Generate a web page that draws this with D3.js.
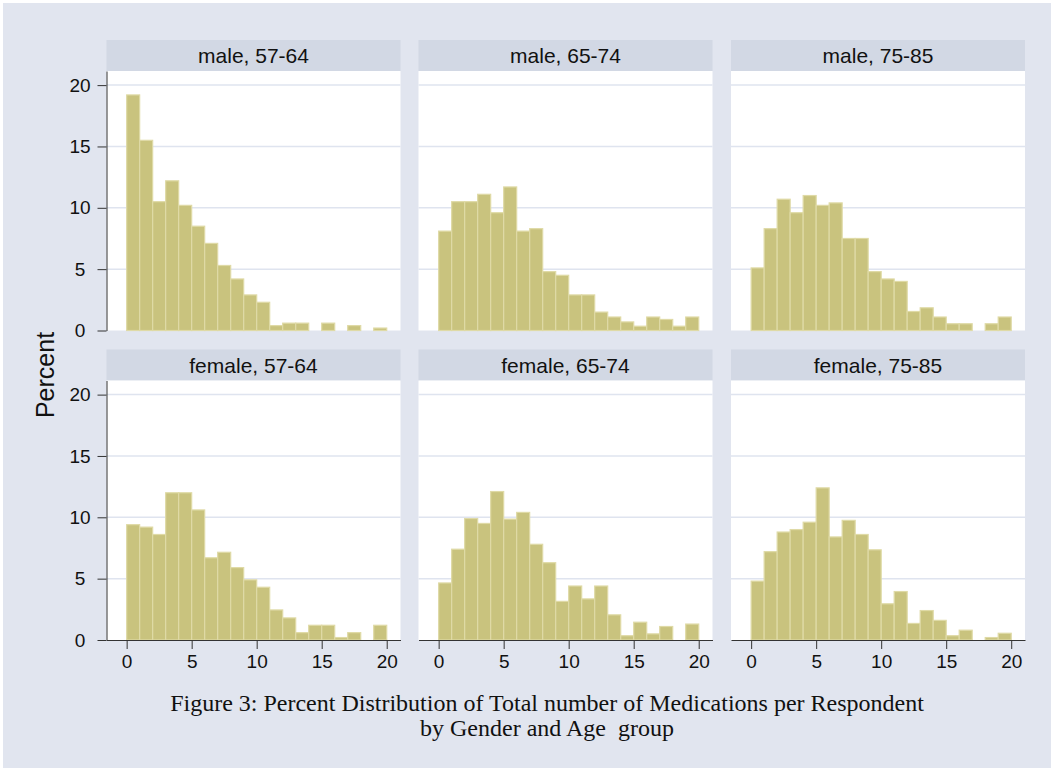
<!DOCTYPE html>
<html>
<head>
<meta charset="utf-8">
<script src="https://cdn.jsdelivr.net/npm/d3@7"></script>
<style>
  html, body { margin: 0; padding: 0; background: #fff; }
  svg { display: block; }
</style>
</head>
<body>
<div id="chart"></div>
<script>
// bin left edges (number of medications), bin width 1
const bins = [0, 1, 2, 3, 4, 5, 6, 7, 8, 9, 10, 11, 12, 13, 14, 15, 16, 17, 18, 19];

// percent per bin
const male5764   = [19.2, 15.5, 10.5, 12.2, 10.2, 8.5, 7.1, 5.3, 4.2, 2.9, 2.3, 0.4, 0.6, 0.6, 0, 0.6, 0, 0.4, 0, 0.2];
const male6574   = [8.1, 10.5, 10.5, 11.1, 9.6, 11.7, 8.1, 8.3, 4.8, 4.5, 2.9, 2.9, 1.5, 1.1, 0.7, 0.35, 1.1, 0.9, 0.35, 1.1];
const male7585   = [5.1, 8.3, 10.7, 9.6, 11.0, 10.2, 10.4, 7.5, 7.5, 4.8, 4.2, 4.0, 1.55, 1.85, 1.1, 0.55, 0.55, 0, 0.55, 1.1];
const female5764 = [9.4, 9.2, 8.6, 12.0, 12.0, 10.6, 6.7, 7.15, 5.9, 4.9, 4.3, 2.45, 1.8, 0.6, 1.2, 1.2, 0.2, 0.6, 0, 1.2];
const female6574 = [4.65, 7.4, 9.9, 9.5, 12.1, 9.85, 10.4, 7.8, 6.3, 3.15, 4.4, 3.35, 4.4, 2.05, 0.35, 1.45, 0.5, 1.1, 0, 1.3];
const female7585 = [4.8, 7.2, 8.8, 9.0, 9.6, 12.4, 8.4, 9.75, 8.6, 7.35, 2.95, 3.95, 1.35, 2.4, 1.6, 0.35, 0.8, 0, 0.2, 0.55];

const panelTitles = ["male, 57-64", "male, 65-74", "male, 75-85",
                     "female, 57-64", "female, 65-74", "female, 75-85"];
const panelData = [male5764, male6574, male7585, female5764, female6574, female7585];

const yTicks = [0, 5, 10, 15, 20];
const xTicks = [0, 5, 10, 15, 20];

const captionLines = ["Figure 3: Percent Distribution of Total number of Medications per Respondent",
                      "by Gender and Age  group"];

// layout
const W = 1051, H = 768;
const colLeft = [106.5, 418.5, 731];
const rowTop = [40, 349.5];     // top of header strip
const headerH = 31,
    plotW = 294,
    plotH = 259.5;

const bg = "#e1e5ef",
    headerFill = "#d2d8e4",
    gridColor = "#dfe4ef",
    barFill = "#c9c37e",
    barStroke = "#dfdaa6",
    axisColor = "#333";

const svg = d3.select("#chart")
    .append("svg")
    .attr("width", W)
    .attr("height", H);

svg.append("rect")
    .attr("x", 3).attr("y", 3)
    .attr("width", W - 3).attr("height", H - 3)
    .attr("fill", bg);

const x = d3.scaleLinear().domain([-1.55, 21.06]).range([0, plotW]);
const y = d3.scaleLinear().domain([0, 21.15]).range([plotH, 0]);

panelData.forEach((vals, i) => {
    const row = Math.floor(i / 3), col = i % 3;
    const g = svg.append("g")
        .attr("transform", `translate(${colLeft[col]}, ${rowTop[row]})`);

    // header strip
    g.append("rect")
        .attr("width", plotW).attr("height", headerH)
        .attr("fill", headerFill);
    g.append("text")
        .attr("x", plotW / 2).attr("y", headerH / 2 + 7.5)
        .attr("text-anchor", "middle")
        .attr("font-family", "Liberation Sans, Arial, sans-serif")
        .attr("font-size", "21px")
        .attr("fill", "#111")
        .text(panelTitles[i]);

    const p = g.append("g").attr("transform", `translate(0, ${headerH})`);

    p.append("rect")
        .attr("width", plotW).attr("height", plotH)
        .attr("fill", "#fff");

    // grid
    p.append("g")
        .selectAll("line")
        .data(yTicks.filter(d => d > 0))
        .join("line")
            .attr("x1", 0).attr("x2", plotW)
            .attr("y1", d => y(d)).attr("y2", d => y(d))
            .attr("stroke", gridColor)
            .attr("stroke-width", 1.5);

    // bars
    p.append("g")
        .selectAll("rect")
        .data(bins.map((b, j) => ({ b: b, v: vals[j] })).filter(d => d.v > 0))
        .join("rect")
            .attr("x", d => x(d.b))
            .attr("width", d => x(d.b + 1) - x(d.b))
            .attr("y", d => y(d.v))
            .attr("height", d => y(0) - y(d.v))
            .attr("fill", barFill)
            .attr("stroke", barStroke)
            .attr("stroke-width", 1.2);

    // y axis on the left column
    if (col == 0) {
        const ya = p.append("g")
            .call(d3.axisLeft(y).tickValues(yTicks).tickSize(9).tickPadding(5).tickSizeOuter(0));
        ya.select(".domain").attr("stroke", axisColor);
        ya.selectAll(".tick line").attr("stroke", axisColor);
        ya.selectAll(".tick text")
            .attr("x", -26.5)
            .attr("text-anchor", "middle")
            .attr("font-family", "Liberation Sans, Arial, sans-serif")
            .attr("font-size", "19px")
            .attr("fill", "#111");
    }

    // x axis on the bottom row
    if (row == 1) {
        const xa = p.append("g")
            .attr("transform", `translate(0, ${plotH})`)
            .call(d3.axisBottom(x).tickValues(xTicks).tickSize(9).tickPadding(6).tickSizeOuter(0));
        xa.select(".domain").attr("stroke", axisColor);
        xa.selectAll(".tick line").attr("stroke", axisColor);
        xa.selectAll(".tick text")
            .attr("font-family", "Liberation Sans, Arial, sans-serif")
            .attr("font-size", "19px")
            .attr("fill", "#111");
    }
});

// y axis title
svg.append("text")
    .attr("transform", "translate(54, 375) rotate(-90)")
    .attr("text-anchor", "middle")
    .attr("font-family", "Liberation Sans, Arial, sans-serif")
    .attr("font-size", "25px")
    .attr("fill", "#111")
    .text("Percent");

// caption
svg.append("g")
    .selectAll("text")
    .data(captionLines)
    .join("text")
        .attr("x", 547)
        .attr("y", (d, i) => 711 + i * 25)
        .attr("text-anchor", "middle")
        .attr("font-family", "Liberation Serif, Times New Roman, serif")
        .attr("font-size", "24px")
        .attr("fill", "#111")
        .style("white-space", "pre")
        .text(d => d);
</script>
</body>
</html>
